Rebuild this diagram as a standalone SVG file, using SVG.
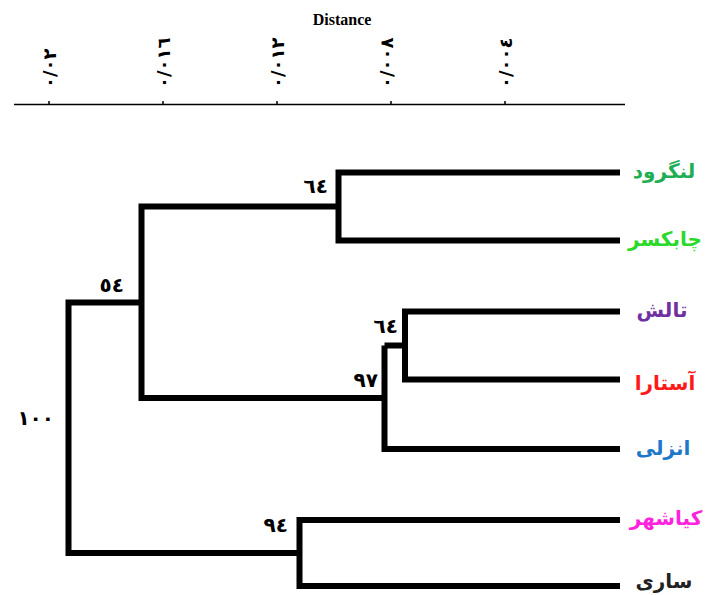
<svg xmlns="http://www.w3.org/2000/svg" width="706" height="595" viewBox="0 0 706 595">
<style>
.tree{fill:none;stroke:#000;stroke-width:6;stroke-linejoin:miter;stroke-linecap:butt}
.axis{fill:none;stroke:#000;stroke-width:1.5}
.tick{font-family:"DejaVu Sans",sans-serif;font-size:18px;font-weight:bold;fill:#000}
.num{font-family:"DejaVu Sans",sans-serif;font-size:20px;font-weight:bold;fill:#000;text-anchor:end}
.leaf{font-family:"DejaVu Sans",sans-serif;font-size:20px;font-weight:bold;text-anchor:middle}
.title{font-family:"Liberation Serif",serif;font-size:16px;font-weight:bold;text-anchor:middle}
</style>
<rect width="706" height="595" fill="#fff"/>
<g id="axis">
<text class="title" x="342" y="25">Distance</text>
<path class="axis" d="M14 104.5H625M49 104.5V101M163 104.5V101M277 104.5V101M391 104.5V101M505 104.5V101"/>
<g class="tick" direction="ltr" unicode-bidi="bidi-override">
<text transform="translate(56,88) rotate(-90)">٠/٠٢</text>
<text transform="translate(170,88) rotate(-90)">٠/٠١٦</text>
<text transform="translate(284,88) rotate(-90)">٠/٠١٢</text>
<text transform="translate(393,88) rotate(-90)">٠/٠٠٨</text>
<text transform="translate(512,88) rotate(-90)">٠/٠٠٤</text>
</g>
</g>
<g id="connectors">
<path class="tree" d="M620 172.5H338.5V240.5H620"/>
<path class="tree" d="M620 311.5H405V379.5H620"/>
<path class="tree" d="M405 345.5H384.5"/>
<path class="tree" d="M384.5 345.5V449H620"/>
<path class="tree" d="M338.5 206.5H141.5V398H384.5"/>
<path class="tree" d="M620 520H299.5V586H620"/>
<path class="tree" d="M141.5 302.5H68.5V553H299.5"/>
</g>
<g id="n64a"><text class="num" x="328" y="193">٦٤</text></g>
<g id="n54"><text class="num" x="124" y="292">٥٤</text></g>
<g id="n64b"><text class="num" x="398" y="333">٦٤</text></g>
<g id="n97"><text class="num" x="378" y="387">٩٧</text></g>
<g id="n100"><text class="num" x="54" y="425">١٠٠</text></g>
<g id="n94"><text class="num" x="288" y="532">٩٤</text></g>
<g id="langarud"><text class="leaf" x="664" y="178" fill="#1fae53">لنگرود</text></g>
<g id="chaboksar"><text class="leaf" x="665" y="246" fill="#2bd92b">چابکسر</text></g>
<g id="talesh"><text class="leaf" x="662" y="317" fill="#7030a0">تالش</text></g>
<g id="astara"><text class="leaf" x="665" y="390" fill="#ff1a1a">آستارا</text></g>
<g id="anzali"><text class="leaf" x="663" y="455" fill="#1e78c8">انزلی</text></g>
<g id="kiashahr"><text class="leaf" x="666" y="525" fill="#ff22dd">کیاشهر</text></g>
<g id="sari"><text class="leaf" x="664" y="588" fill="#222">ساری</text></g>
</svg>
